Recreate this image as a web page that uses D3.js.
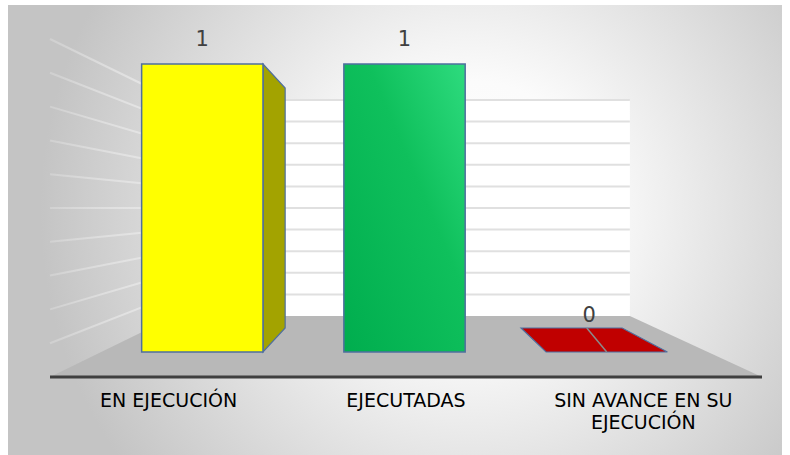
<!DOCTYPE html>
<html>
<head>
<meta charset="utf-8">
<script src="https://cdn.jsdelivr.net/npm/d3@7"></script>
<style>
  body { margin: 0; background: #ffffff; }
  text { font-family: "DejaVu Sans", sans-serif; }
</style>
</head>
<body>
<div id="chart"></div>
<script>
// 3D-ish column chart, drawn with a simple one-point perspective

var categories = ["EN EJECUCIÓN", "EJECUTADAS", "SIN AVANCE EN SU EJECUCIÓN"];
var values = [1, 1, 0];
var valueLabels = ["1", "1", "0"];
var barColors = ["#ffff00", "url(#greenGrad)", "#c00000"];
var sideColors = ["#a3a300", "#00803a", "#8a0000"];

var width = 790, height = 455;

var svg = d3.select("#chart").append("svg")
    .attr("width", width)
    .attr("height", height);

var defs = svg.append("defs");

var bg = defs.append("radialGradient")
    .attr("id", "bgGrad")
    .attr("gradientUnits", "userSpaceOnUse")
    .attr("cx", 470).attr("cy", 210).attr("r", 430);
bg.append("stop").attr("offset", "0").attr("stop-color", "#ffffff");
bg.append("stop").attr("offset", "0.3").attr("stop-color", "#fbfbfb");
bg.append("stop").attr("offset", "1").attr("stop-color", "#c4c4c4");

var gg = defs.append("linearGradient")
    .attr("id", "greenGrad")
    .attr("x1", "0").attr("y1", "1").attr("x2", "1").attr("y2", "0");
gg.append("stop").attr("offset", "0").attr("stop-color", "#00ad4e");
gg.append("stop").attr("offset", "0.6").attr("stop-color", "#0fc05c");
gg.append("stop").attr("offset", "1").attr("stop-color", "#2edb7e");

// side wall lines fade out toward the left
var sg = defs.append("linearGradient")
    .attr("id", "sideLine")
    .attr("gradientUnits", "userSpaceOnUse")
    .attr("x1", 50).attr("y1", 0).attr("x2", 160).attr("y2", 0);
sg.append("stop").attr("offset", "0").attr("stop-color", "#e6e6e6").attr("stop-opacity", 0.35);
sg.append("stop").attr("offset", "1").attr("stop-color", "#e6e6e6").attr("stop-opacity", 1);

// chart area background
svg.append("rect")
    .attr("x", 8).attr("y", 5)
    .attr("width", 774).attr("height", 450)
    .attr("fill", "url(#bgGrad)");

// perspective setup
var vp = {x: 396, y: 208};      // vanishing point
var fFloor = 1, fBarFront = 0.852, fBarBack = 0.71, fWall = 0.639;

function proj(x, y, f) {
    return [vp.x + (x - vp.x) * f, vp.y + (y - vp.y) * f];
}
function poly(pts) { return pts.map(p => p.join(",")).join(" "); }

var x = d3.scaleBand()
    .domain(categories)
    .range([50, 762])
    .paddingInner(0.4)
    .paddingOuter(0.2);

var y = d3.scaleLinear()
    .domain([0, 1])
    .range([377, 39]);

var ticks = y.ticks(10).filter(t => t > 0);
var x0 = x.range()[0], x1 = x.range()[1];

// back wall
svg.append("polygon")
    .attr("points", poly([proj(x0, y(0), fWall), proj(x1, y(0), fWall),
                          proj(x1, y(1), fWall), proj(x0, y(1), fWall)]))
    .attr("fill", "#ffffff");

// side wall gridlines
svg.append("g").selectAll("line")
    .data(ticks)
    .join("line")
    .attr("x1", d => proj(x0, y(d), fFloor)[0])
    .attr("y1", d => proj(x0, y(d), fFloor)[1])
    .attr("x2", d => proj(x0, y(d), fWall)[0])
    .attr("y2", d => proj(x0, y(d), fWall)[1])
    .attr("stroke", "url(#sideLine)")
    .attr("stroke-width", 2);

// back wall gridlines
svg.append("g").selectAll("line")
    .data(ticks)
    .join("line")
    .attr("x1", d => proj(x0, y(d), fWall)[0])
    .attr("y1", d => proj(x0, y(d), fWall)[1])
    .attr("x2", d => proj(x1, y(d), fWall)[0])
    .attr("y2", d => proj(x1, y(d), fWall)[1])
    .attr("stroke", "#e0e0e0")
    .attr("stroke-width", 2);

// floor
svg.append("polygon")
    .attr("points", poly([proj(x0, y(0), fFloor), proj(x1, y(0), fFloor),
                          proj(x1, y(0), fWall), proj(x0, y(0), fWall)]))
    .attr("fill", "#b8b8b8");

svg.append("line")
    .attr("x1", x0).attr("x2", x1)
    .attr("y1", y(0)).attr("y2", y(0))
    .attr("stroke", "#3f3f3f")
    .attr("stroke-width", 3);

// bars
var bw = x.bandwidth();
var bars = svg.append("g");

categories.forEach(function(c, i) {
    var bx0 = x(c), bx1 = x(c) + bw;
    var yt = y(values[i]), yb = y(0);
    var g = bars.append("g");

    // side face (only when bar is left of vanishing point)
    if (bx1 < vp.x && values[i] > 0) {
        g.append("polygon")
            .attr("points", poly([proj(bx1, yt, fBarFront), proj(bx1, yt, fBarBack),
                                  proj(bx1, yb, fBarBack), proj(bx1, yb, fBarFront)]))
            .attr("fill", sideColors[i])
            .attr("stroke", "#4f6f9f").attr("stroke-width", 1.2);
    }
    if (bx0 > vp.x && values[i] > 0) {
        g.append("polygon")
            .attr("points", poly([proj(bx0, yt, fBarFront), proj(bx0, yt, fBarBack),
                                  proj(bx0, yb, fBarBack), proj(bx0, yb, fBarFront)]))
            .attr("fill", sideColors[i])
            .attr("stroke", "#4f6f9f").attr("stroke-width", 1.2);
    }
    // top face (visible only below eye level)
    if (yt > vp.y) {
        g.append("polygon")
            .attr("points", poly([proj(bx0, yt, fBarFront), proj(bx1, yt, fBarFront),
                                  proj(bx1, yt, fBarBack), proj(bx0, yt, fBarBack)]))
            .attr("fill", barColors[i])
            .attr("stroke", "#4f6f9f").attr("stroke-width", 1.2);
        var cx = bx0 + bw / 2;
        g.append("line")
            .attr("x1", proj(cx, yt, fBarFront)[0]).attr("y1", proj(cx, yt, fBarFront)[1])
            .attr("x2", proj(cx + bw * 0.15, yt, fBarBack)[0]).attr("y2", proj(cx, yt, fBarBack)[1])
            .attr("stroke", "#8a8a8a").attr("stroke-width", 1.5);
    }
    // front face
    if (values[i] > 0) {
        g.append("polygon")
            .attr("points", poly([proj(bx0, yt, fBarFront), proj(bx1, yt, fBarFront),
                                  proj(bx1, yb, fBarFront), proj(bx0, yb, fBarFront)]))
            .attr("fill", barColors[i])
            .attr("stroke", "#4f6f9f").attr("stroke-width", 1.5);
    }

    // value label
    var fl = values[i] > 0 ? fBarFront : (fBarFront + fBarBack) / 2;
    var lp = proj(bx0 + bw / 2, yt, fl);
    svg.append("text")
        .attr("x", lp[0])
        .attr("y", lp[1] - 18)
        .attr("text-anchor", "middle")
        .attr("font-size", 21)
        .attr("fill", "#404040")
        .text(valueLabels[i]);
});

// category labels, wrapped
var labels = svg.append("g");
categories.forEach(function(c) {
    var cx = x(c) + bw / 2;
    var words = c.split(" ");
    var lines = [], cur = "";
    var t = labels.append("text")
        .attr("x", cx)
        .attr("y", 407)
        .attr("text-anchor", "middle")
        .attr("font-size", 19)
        .attr("fill", "#000000");
    words.forEach(function(w) {
        var test = cur ? cur + " " + w : w;
        t.text(test);
        if (t.node().getComputedTextLength() > 210 && cur) {
            lines.push(cur);
            cur = w;
        } else {
            cur = test;
        }
    });
    lines.push(cur);
    t.text(null);
    lines.forEach(function(l, k) {
        t.append("tspan")
            .attr("x", cx)
            .attr("y", 407 + k * 22)
            .text(l);
    });
});
</script>
</body>
</html>
